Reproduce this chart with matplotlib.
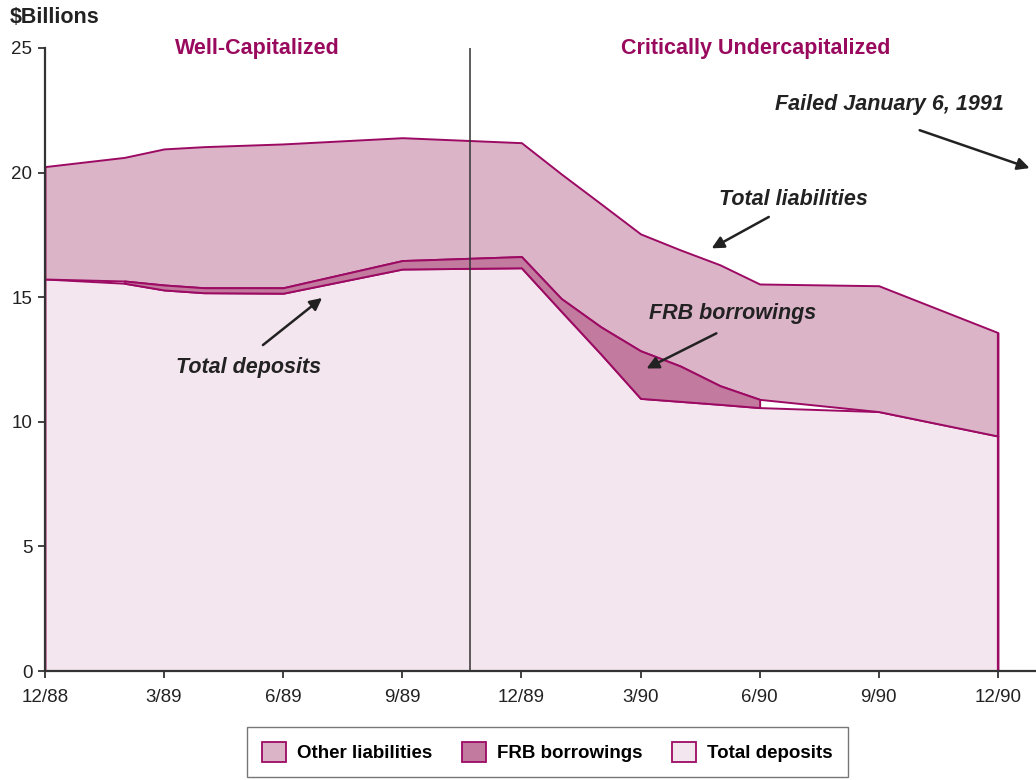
import numpy as np
import matplotlib.pyplot as plt
from matplotlib.patches import Patch

plt.rcParams['font.family'] = ['Liberation Sans', 'DejaVu Sans']

# months after 12/88 where the series change slope
months = [0, 2, 3, 4, 6, 9, 12, 13, 14, 15, 16, 17, 18, 21, 24]
total_liabilities = [20.24, 20.61, 20.95, 21.04, 21.15, 21.40, 21.20, 19.95, 18.75,
                     17.54, 16.90, 16.30, 15.53, 15.46, 13.58]
total_deposits = [15.73, 15.56, 15.29, 15.18, 15.16, 16.13, 16.18, 14.44, 12.72,
                  10.94, 10.82, 10.70, 10.57, 10.41, 9.43]
frb_borrowings = [np.nan, 0.09, 0.20, 0.20, 0.22, 0.34, 0.45, 0.51, 1.09,
                  1.91, 1.42, 0.75, 0.33, np.nan, np.nan]

tick_months = [0, 3, 6, 9, 12, 15, 18, 21, 24]
tick_labels = ['12/88', '3/89', '6/89', '9/89', '12/89', '3/90', '6/90', '9/90', '12/90']

# colours
c_other = '#DBB4C8'
c_frb = '#C27A9E'
c_dep = '#F4E6EE'
c_edge = '#9C0A63'
c_title = '#990A5E'
c_text = '#222222'

x = np.array(months, dtype=float)
dep = np.array(total_deposits)
frb = np.array(frb_borrowings)
tot = np.array(total_liabilities)
frb_top = dep + frb
lower_other = dep + np.nan_to_num(frb)

fig = plt.figure(figsize=(10.36, 7.8), dpi=100)
ax = fig.add_axes([0.0434, 0.1397, 0.9566, 0.7988])

ax.fill_between(x, 0, dep, facecolor=c_dep, edgecolor=c_edge, lw=1.4, zorder=2)
ax.fill_between(x, lower_other, tot, facecolor=c_other, edgecolor=c_edge, lw=1.4, zorder=2)
ax.fill_between(x, dep, frb_top, facecolor=c_frb, edgecolor=c_edge, lw=1.4, zorder=3)
ax.vlines(x[-1], 0, tot[-1], color=c_edge, lw=1.6, zorder=4)

# divider between the two periods
ax.axvline(10.7, color='#333333', lw=1.1, zorder=5)

ax.set_xlim(0, 24.96)
ax.set_ylim(0, 25)
ax.set_xticks(tick_months)
ax.set_xticklabels(tick_labels)
ax.set_yticks([0, 5, 10, 15, 20, 25])
ax.tick_params(axis='both', labelsize=13.5, colors='#222222', direction='out', length=5, width=1.2)
ax.tick_params(axis='x', pad=8)
ax.tick_params(axis='y', pad=4)
for s in ['top', 'right']:
    ax.spines[s].set_visible(False)
for s in ['left', 'bottom']:
    ax.spines[s].set_color('#333333')
    ax.spines[s].set_linewidth(1.6)
    ax.spines[s].set_zorder(6)

fig.text(0.0097, 0.977, '$Billions', fontsize=15.5, fontweight='bold', color='#222222',
         ha='left', va='center')

ax.text(5.36, 24.96, 'Well-Capitalized', fontsize=15.5, fontweight='bold', color=c_title,
        ha='center', va='center')
ax.text(17.9, 24.96, 'Critically Undercapitalized', fontsize=15.5, fontweight='bold',
        color=c_title, ha='center', va='center')

arrow = dict(arrowstyle='-|>', color=c_text, lw=1.8, mutation_scale=18, shrinkA=0, shrinkB=0)
ax.annotate('', xy=(6.98, 14.97), xytext=(5.49, 13.08), arrowprops=arrow, zorder=7)
ax.text(5.14, 12.16, 'Total deposits', fontsize=15.5, fontweight='bold', style='italic',
        color=c_text, ha='center', va='center')
ax.annotate('', xy=(16.79, 16.96), xytext=(18.23, 18.22), arrowprops=arrow, zorder=7)
ax.text(18.84, 18.9, 'Total liabilities', fontsize=15.5, fontweight='bold', style='italic',
        color=c_text, ha='center', va='center')
ax.annotate('', xy=(15.15, 12.14), xytext=(16.91, 13.55), arrowprops=arrow, zorder=7)
ax.text(17.33, 14.33, 'FRB borrowings', fontsize=15.5, fontweight='bold', style='italic',
        color=c_text, ha='center', va='center')
ax.annotate('', xy=(24.8, 20.18), xytext=(22.03, 21.7), arrowprops=arrow, zorder=7,
            annotation_clip=False)
ax.text(21.28, 22.75, 'Failed January 6, 1991', fontsize=15.5, fontweight='bold',
        style='italic', color=c_text, ha='center', va='center')

handles = [Patch(facecolor=c_other, edgecolor=c_edge, lw=1.3, label='Other liabilities'),
           Patch(facecolor=c_frb, edgecolor=c_edge, lw=1.3, label='FRB borrowings'),
           Patch(facecolor=c_dep, edgecolor=c_edge, lw=1.3, label='Total deposits')]
leg = fig.legend(handles=handles, loc='upper center', bbox_to_anchor=(0.5285, 0.08),
                 ncol=3, fancybox=False, frameon=True, handlelength=1.25, handleheight=1.3,
                 columnspacing=1.6, handletextpad=0.6, borderpad=0.8,
                 prop={'size': 13.5, 'weight': 'bold'})
leg.get_frame().set_edgecolor('#555555')
leg.get_frame().set_linewidth(1.0)

fig.savefig('out.png', dpi=100)
